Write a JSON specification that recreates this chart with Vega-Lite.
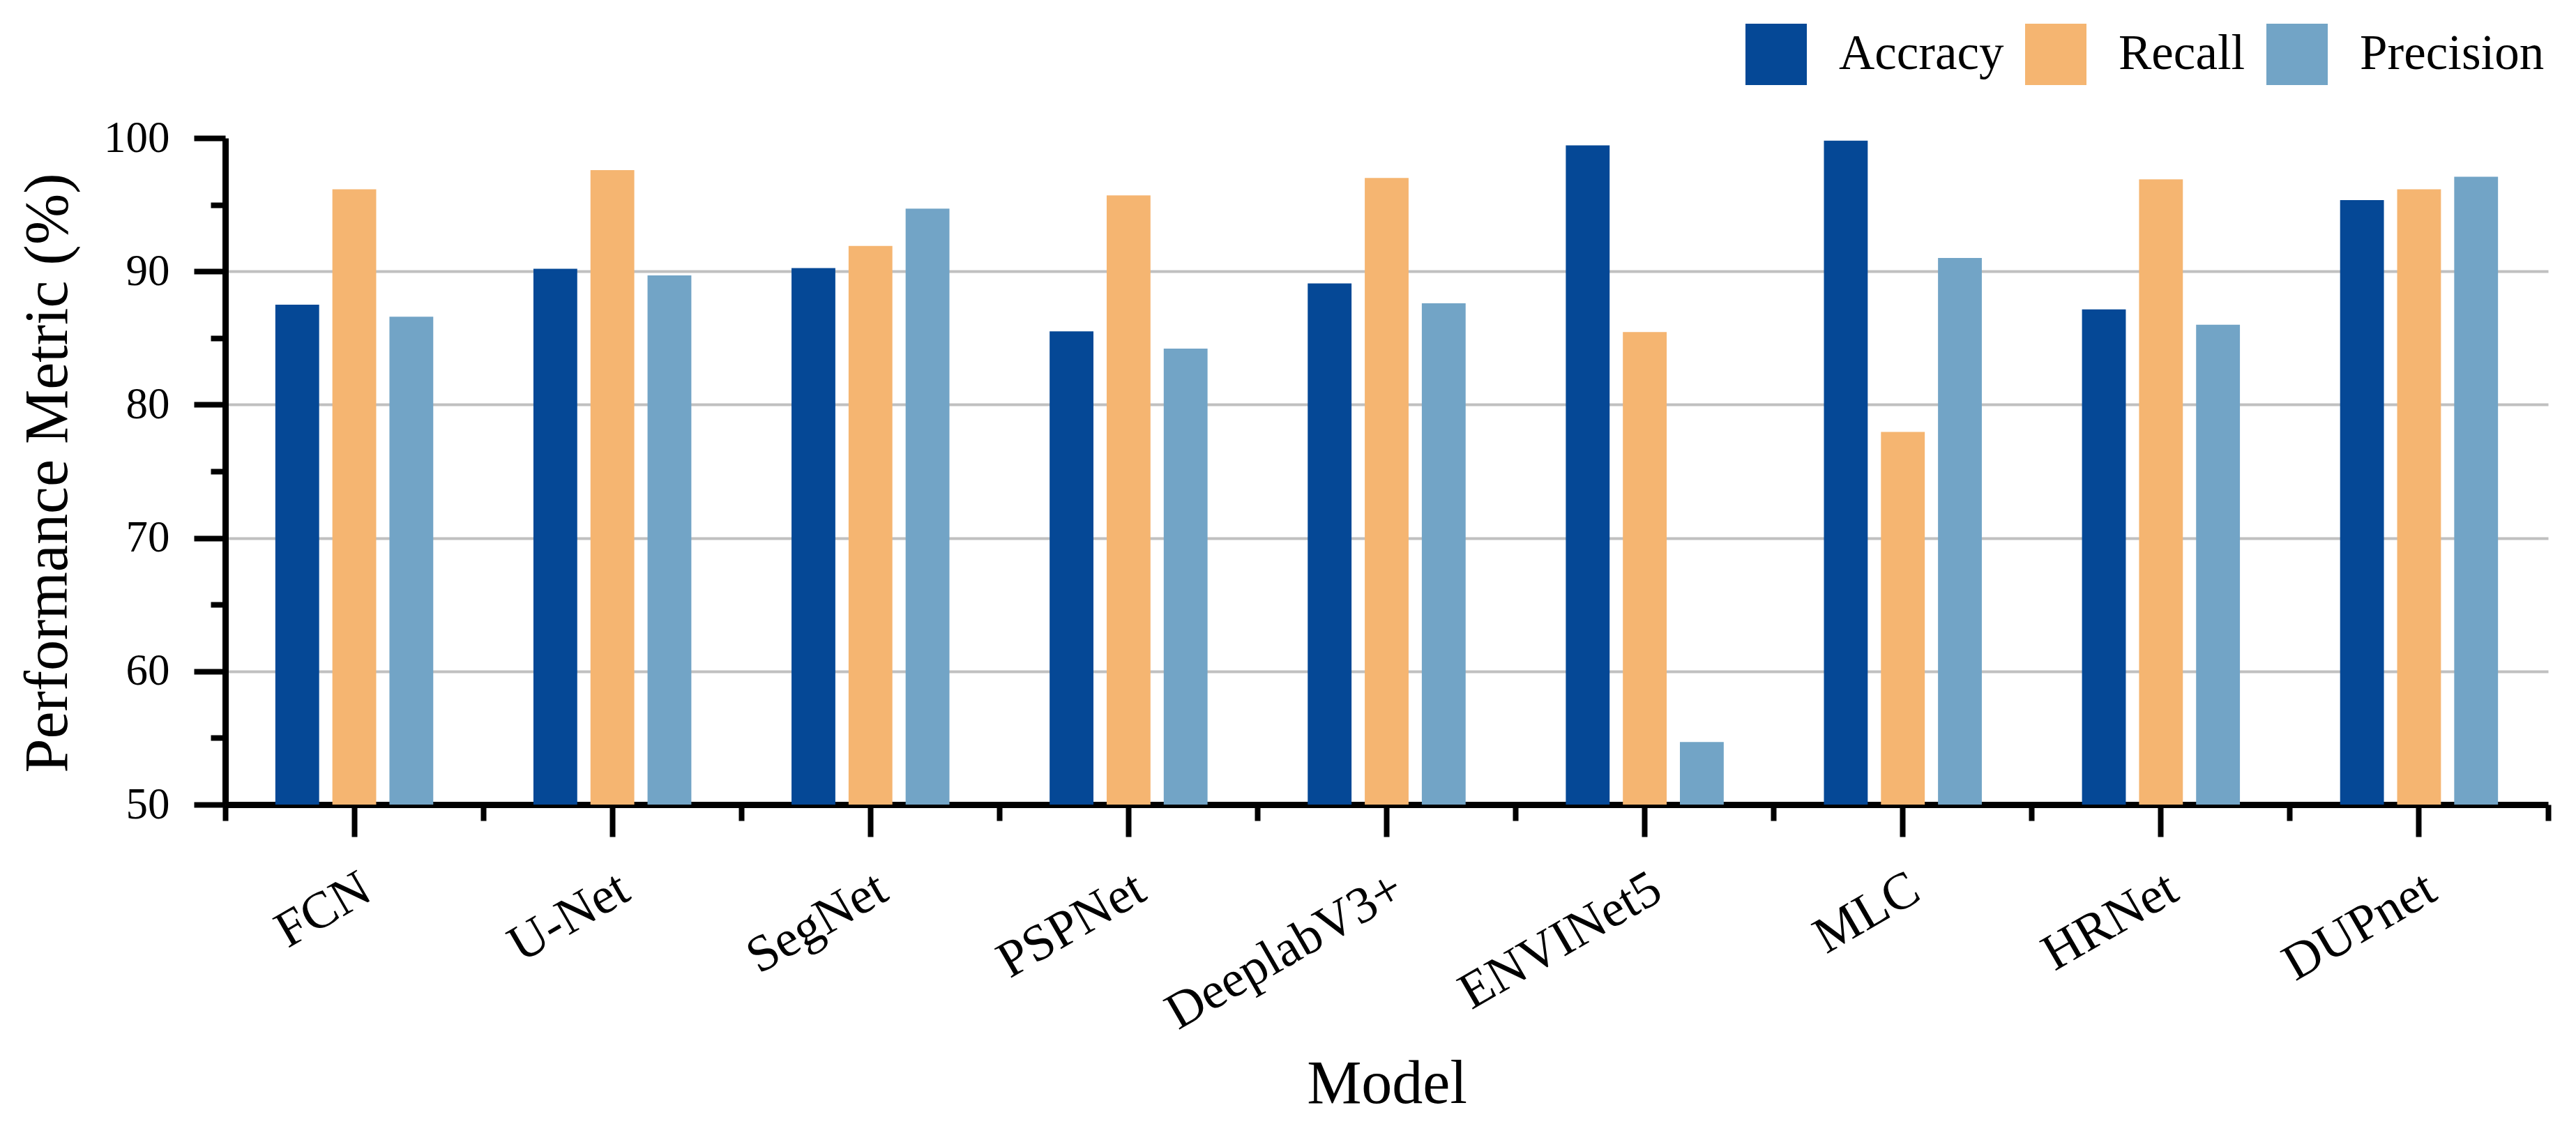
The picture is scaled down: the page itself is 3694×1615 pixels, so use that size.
{
  "$schema": "https://vega.github.io/schema/vega-lite/v6.json",
  "autosize": {"type": "none"},
  "padding": {"left": 323, "top": 198, "right": 40, "bottom": 461},
  "width": 3331,
  "height": 956,
  "background": "white",
  "config": {
    "view": {"stroke": null},
    "font": "Liberation Serif"
  },
  "data": {
    "values": [
      {"Model": "FCN", "Metric": "Accracy", "Value": 87.5},
      {"Model": "FCN", "Metric": "Recall", "Value": 96.15},
      {"Model": "FCN", "Metric": "Precision", "Value": 86.6},
      {"Model": "U-Net", "Metric": "Accracy", "Value": 90.2},
      {"Model": "U-Net", "Metric": "Recall", "Value": 97.6},
      {"Model": "U-Net", "Metric": "Precision", "Value": 89.7},
      {"Model": "SegNet", "Metric": "Accracy", "Value": 90.25},
      {"Model": "SegNet", "Metric": "Recall", "Value": 91.9},
      {"Model": "SegNet", "Metric": "Precision", "Value": 94.7},
      {"Model": "PSPNet", "Metric": "Accracy", "Value": 85.5},
      {"Model": "PSPNet", "Metric": "Recall", "Value": 95.7},
      {"Model": "PSPNet", "Metric": "Precision", "Value": 84.2},
      {"Model": "DeeplabV3+", "Metric": "Accracy", "Value": 89.1},
      {"Model": "DeeplabV3+", "Metric": "Recall", "Value": 97.0},
      {"Model": "DeeplabV3+", "Metric": "Precision", "Value": 87.6},
      {"Model": "ENVINet5", "Metric": "Accracy", "Value": 99.45},
      {"Model": "ENVINet5", "Metric": "Recall", "Value": 85.45},
      {"Model": "ENVINet5", "Metric": "Precision", "Value": 54.7},
      {"Model": "MLC", "Metric": "Accracy", "Value": 99.8},
      {"Model": "MLC", "Metric": "Recall", "Value": 77.95},
      {"Model": "MLC", "Metric": "Precision", "Value": 91.0},
      {"Model": "HRNet", "Metric": "Accracy", "Value": 87.15},
      {"Model": "HRNet", "Metric": "Recall", "Value": 96.9},
      {"Model": "HRNet", "Metric": "Precision", "Value": 86.0},
      {"Model": "DUPnet", "Metric": "Accracy", "Value": 95.35},
      {"Model": "DUPnet", "Metric": "Recall", "Value": 96.15},
      {"Model": "DUPnet", "Metric": "Precision", "Value": 97.1}
    ]
  },
  "resolve": {"axis": {"x": "independent"}},
  "layer": [
    {
      "mark": {"type": "bar", "clip": true},
      "encoding": {
        "x": {
          "field": "Model",
          "type": "nominal",
          "sort": null,
          "scale": {"paddingInner": 0, "paddingOuter": 0},
          "axis": {
            "orient": "bottom",
            "bandPosition": 0.5,
            "grid": false,
            "domainColor": "black",
            "domainWidth": 9,
            "tickColor": "black",
            "tickWidth": 8,
            "tickSize": 46,
            "labelAngle": -30,
            "labelAlign": "right",
            "labelBaseline": "alphabetic",
            "labelFont": "Liberation Serif",
            "labelFontSize": 74,
            "labelColor": "black",
            "labelLimit": 0,
            "labelPadding": 88,
            "labelOffset": 29,
            "title": "Model",
            "titleFont": "Liberation Serif",
            "titleFontSize": 88,
            "titleFontWeight": "normal",
            "titleColor": "black",
            "titleBaseline": "alphabetic",
            "titleY": 427
          }
        },
        "xOffset": {
          "field": "Metric",
          "type": "nominal",
          "scale": {"domain": ["Accracy", "Recall", "Precision"], "paddingInner": 0.232, "paddingOuter": 0.878}
        },
        "y": {
          "field": "Value",
          "type": "quantitative",
          "scale": {"domain": [50, 100], "nice": false, "zero": false},
          "axis": {
            "values": [50, 55, 60, 65, 70, 75, 80, 85, 90, 95, 100],
            "labelExpr": "datum.value % 10 == 0 ? datum.label : ''",
            "tickSize": {"condition": {"test": "datum.value % 10 == 0", "value": 45}, "value": 21},
            "gridColor": {"condition": {"test": "datum.value % 10 == 0 && datum.value < 100 && datum.value > 50", "value": "#C0C0C0"}, "value": "transparent"},
            "gridWidth": 4,
            "domainColor": "black",
            "domainWidth": 9,
            "tickColor": "black",
            "tickWidth": 8,
            "labelFont": "Liberation Serif",
            "labelFontSize": 63,
            "labelColor": "black",
            "labelLimit": 0,
            "labelPadding": 35,
            "title": "Performance Metric (%)",
            "titleFont": "Liberation Serif",
            "titleFontSize": 88,
            "titleFontWeight": "normal",
            "titleColor": "black",
            "titleAngle": -90,
            "titleBaseline": "alphabetic",
            "titleAlign": "center",
            "titleLimit": 0,
            "titleX": -228,
            "titleY": 480
          }
        },
        "color": {
          "field": "Metric",
          "type": "nominal",
          "scale": {"domain": ["Accracy", "Recall", "Precision"], "range": ["#054896", "#F5B571", "#72A4C6"]},
          "legend": {
            "orient": "none",
            "legendX": 2180,
            "legendY": -164,
            "direction": "horizontal",
            "title": null,
            "symbolType": "square",
            "symbolSize": 7744,
            "symbolStrokeWidth": 0,
            "symbolOpacity": 1,
            "labelFont": "Liberation Serif",
            "labelFontSize": 71,
            "labelColor": "black",
            "labelLimit": 0,
            "labelOffset": 46,
            "columnPadding": 30
          }
        }
      }
    },
    {
      "mark": {"type": "tick", "opacity": 0},
      "encoding": {
        "x": {
          "field": "Model",
          "type": "nominal",
          "sort": null,
          "axis": {
            "orient": "bottom",
            "bandPosition": 0,
            "grid": false,
            "domain": false,
            "labels": false,
            "title": null,
            "tickColor": "black",
            "tickWidth": 8,
            "tickSize": 23
          }
        }
      }
    },
    {
      "mark": {"type": "tick", "opacity": 0},
      "encoding": {
        "x": {
          "field": "Model",
          "type": "nominal",
          "sort": null,
          "axis": {
            "orient": "bottom",
            "values": ["DUPnet"],
            "bandPosition": 1,
            "grid": false,
            "domain": false,
            "labels": false,
            "title": null,
            "tickColor": "black",
            "tickWidth": 8,
            "tickSize": 23
          }
        }
      }
    }
  ]
}
